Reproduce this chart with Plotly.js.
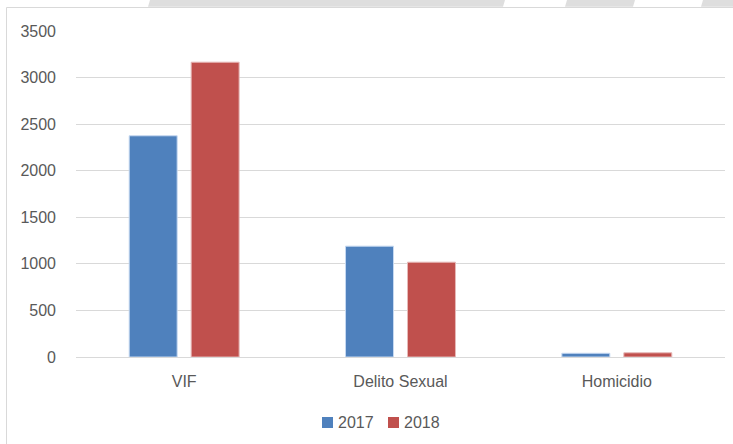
<!DOCTYPE html>
<html>
<head>
<meta charset="utf-8">
<script src="https://cdn.plot.ly/plotly-3.0.1.min.js"></script>
<style>html,body{margin:0;padding:0;background:#fff;}#chart{width:733px;height:444px;}</style>
</head>
<body>
<div id="chart"></div>
<script>
var categories = ["VIF", "Delito Sexual", "Homicidio"];
var seriesNames = ["2017", "2018"];
var values2017 = [2375, 1190, 40];
var values2018 = [3165, 1018, 45];
var yTicks = [0, 500, 1000, 1500, 2000, 2500, 3000, 3500];
var seriesColors = ["#4F81BD", "#C0504D"];
var seriesLines = ["#C6D9F1", "#E6B9B8"];

var L = 76, R = 725, T = 31, B = 357, W = 733, H = 444;
function px(x){ return (x - L) / (R - L); }
function py(y){ return (B - y) / (B - T); }

var traces = [
  {type:"bar", name:seriesNames[0], x:categories, y:values2017,
   marker:{color:seriesColors[0], line:{color:seriesLines[0], width:1}}},
  {type:"bar", name:seriesNames[1], x:categories, y:values2018,
   marker:{color:seriesColors[1], line:{color:seriesLines[1], width:1}}}
];

function para(x0, x1, x2, x3){
  return "M " + px(x0) + " " + py(0) + " L " + px(x1) + " " + py(0) +
         " L " + px(x2) + " " + py(6.8) + " L " + px(x3) + " " + py(6.8) + " Z";
}

var shapes = [
  {type:"path", xref:"paper", yref:"paper", path: para(150, 505, 503, 148),
   fillcolor:"#DEDEDE", line:{width:0}, layer:"below"},
  {type:"path", xref:"paper", yref:"paper", path: para(567, 635, 633, 565),
   fillcolor:"#DEDEDE", line:{width:0}, layer:"below"},
  {type:"path", xref:"paper", yref:"paper", path: para(703, 760, 760, 701),
   fillcolor:"#DEDEDE", line:{width:0}, layer:"below"},
  {type:"rect", xref:"paper", yref:"paper", x0: px(6.5), x1: px(760), y0: py(7.5), y1: py(470),
   fillcolor:"rgba(0,0,0,0)", line:{color:"#D9D9D9", width:1}, layer:"below"}
];

// custom legend (compact Excel-style spacing)
var legendX = [322, 388];
var annotations = [];
seriesNames.forEach(function(name, i){
  shapes.push({type:"rect", xref:"paper", yref:"paper",
    x0: px(legendX[i]), x1: px(legendX[i] + 11), y0: py(428), y1: py(417),
    fillcolor: seriesColors[i], line:{width:0}});
  annotations.push({xref:"paper", yref:"paper", x: px(legendX[i] + 14), y: py(422.5),
    xanchor:"left", yanchor:"middle", showarrow:false, text:name,
    font:{size:16, color:"#595959"}});
});

var layout = {
  width: W, height: H,
  margin: {l: L, r: W - R, t: T, b: H - B, pad: 0},
  paper_bgcolor: "#ffffff",
  plot_bgcolor: "#ffffff",
  font: {family: "Liberation Sans, Arial, sans-serif", size: 16, color: "#595959"},
  barmode: "group",
  bargap: 0.427,
  bargroupgap: 0.226,
  showlegend: false,
  xaxis: {type: "category", showgrid: false, zeroline: false, showline: false,
          ticks: "", ticklabelstandoff: 13, tickfont: {size: 16, color: "#595959"}},
  yaxis: {range: [0, 3500], tickvals: yTicks, ticktext: yTicks.map(String),
          showgrid: true, gridcolor: "#D9D9D9", gridwidth: 1, zeroline: true,
          zerolinecolor: "#D9D9D9", zerolinewidth: 1, showline: false, ticks: "",
          ticklabelstandoff: 19, tickfont: {size: 16, color: "#595959"}},
  shapes: shapes,
  annotations: annotations
};

Plotly.newPlot("chart", traces, layout, {displayModeBar: false, staticPlot: true});
</script>
</body>
</html>
